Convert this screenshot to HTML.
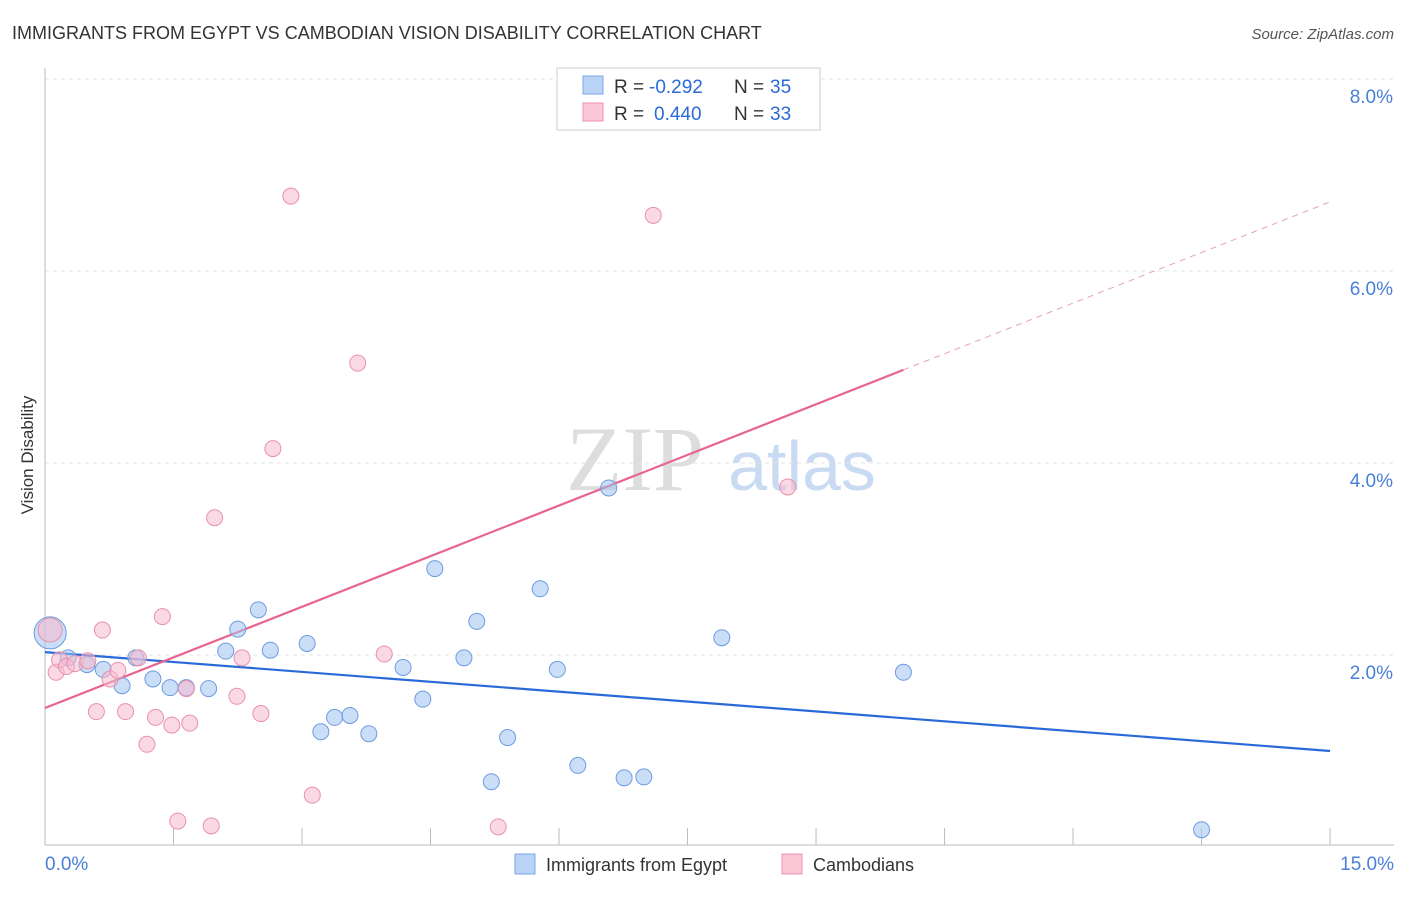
<!DOCTYPE html>
<html><head><meta charset="utf-8"><style>
body{margin:0;background:#fff;font-family:"Liberation Sans",sans-serif;}
svg text{font-family:"Liberation Sans",sans-serif;}
</style></head><body>
<svg id="chart" width="1406" height="892" xmlns="http://www.w3.org/2000/svg">
<text x="12" y="39" font-size="18" fill="#333">IMMIGRANTS FROM EGYPT VS CAMBODIAN VISION DISABILITY CORRELATION CHART</text>
<text x="1394" y="39" font-size="15" fill="#555" font-style="italic" text-anchor="end">Source: ZipAtlas.com</text>
<text x="33" y="455" font-size="17" fill="#333" text-anchor="middle" transform="rotate(-90 33 455)">Vision Disability</text>
<g>
<text x="635" y="490" font-size="92" fill="#ddd" style="font-family:'Liberation Serif',serif" text-anchor="middle">ZIP</text>
<text x="802" y="490" font-size="70" fill="#c9daf3" text-anchor="middle">atlas</text>
</g>
<g id="grid"></g><g id="axes"></g><g id="lines"></g><g id="pts"></g>
<g>
<rect x="557" y="68" width="263" height="62" fill="#fff" stroke="#ccc"/>
<rect x="583" y="76" width="20" height="18" fill="#b9d3f6" stroke="#7aa7e8"/>
<text x="614" y="93" font-size="19" fill="#333">R =</text>
<text x="649" y="93" font-size="19" fill="#2a6ad8">-0.292</text>
<text x="734" y="93" font-size="19" fill="#333">N =</text>
<text x="770" y="93" font-size="19" fill="#2a6ad8">35</text>
<rect x="583" y="103" width="20" height="18" fill="#f9c7d6" stroke="#ee92ae"/>
<text x="614" y="120" font-size="19" fill="#333">R =</text>
<text x="654" y="120" font-size="19" fill="#2a6ad8">0.440</text>
<text x="734" y="120" font-size="19" fill="#333">N =</text>
<text x="770" y="120" font-size="19" fill="#2a6ad8">33</text>
</g>
<g>
<rect x="515" y="854" width="20" height="20" fill="#b9d3f6" stroke="#7aa7e8"/>
<text x="546" y="871" font-size="18" fill="#333">Immigrants from Egypt</text>
<rect x="782" y="854" width="20" height="20" fill="#f9c7d6" stroke="#ee92ae"/>
<text x="813" y="871" font-size="18" fill="#333">Cambodians</text>
</g>
</svg>
<script>
const yTicks=[2,4,6,8];
const yTickLabels=["2.0%","4.0%","6.0%","8.0%"];
const xEdgeLabels=["0.0%","15.0%"];
const egyptX=[0.06,0.27,0.49,0.68,0.9,1.06,1.26,1.46,1.65,1.91,2.11,2.25,2.49,2.63,3.06,3.22,3.38,3.56,3.78,4.18,4.41,4.55,4.89,5.04,5.21,5.4,5.78,5.98,6.22,6.58,6.76,6.99,7.9,10.02,13.5];
const egyptY=[2.23,1.97,1.9,1.85,1.68,1.97,1.75,1.66,1.66,1.65,2.04,2.27,2.47,2.05,2.12,1.2,1.35,1.37,1.18,1.87,1.54,2.9,1.97,2.35,0.68,1.14,2.69,1.85,0.85,3.74,0.72,0.73,2.18,1.82,0.18];
const camX=[0.06,0.13,0.17,0.25,0.35,0.5,0.6,0.67,0.76,0.85,0.94,1.09,1.19,1.29,1.37,1.48,1.55,1.65,1.69,1.94,1.98,2.24,2.3,2.52,2.66,2.87,3.12,3.65,3.96,5.29,7.1,8.67];
const camY=[2.26,1.82,1.95,1.88,1.91,1.94,1.41,2.26,1.75,1.84,1.41,1.97,1.07,1.35,2.4,1.27,0.27,1.65,1.29,0.22,3.43,1.57,1.97,1.39,4.15,6.78,0.54,5.04,2.01,0.21,6.58,3.75];
const camSize=[12,8,8,8,8,8,8,8,8,8,8,8,8,8,8,8,8,8,8,8,8,8,8,8,8,8,8,8,8,8,8,8];
const egyptLine=[2.03,1.0];
const camLine=[1.448,6.72];
const camSolidEnd=10.02;
const X=v=>45+v*85.67, Y=v=>847-v*96;
const NS="http://www.w3.org/2000/svg";
function mk(parent,tag,attrs){const e=document.createElementNS(NS,tag);for(const k in attrs)e.setAttribute(k,attrs[k]);document.getElementById(parent).appendChild(e);return e;}
yTicks.forEach((t,i)=>{
 let l=mk('grid','line',{x1:45,x2:1394,y1:Y(t),y2:Y(t),stroke:'#e3e3e3','stroke-dasharray':'4,4'});
 
 
 let tx=mk('grid','text',{x:1393,y:Y(t)+24,'font-size':19,fill:'#4a7fd8','text-anchor':'end'});tx.textContent=yTickLabels[i];
 
 
});
let ax=mk('axes','line',{x1:45,x2:1394,y1:845,y2:845,stroke:'#bbb'});


let ay=mk('axes','line',{x1:45,x2:45,y1:68,y2:845,stroke:'#bbb'});


for(let i=0;i<=10;i++){let t=mk('axes','line',{x1:X(i*1.5),x2:X(i*1.5),y1:828,y2:845,stroke:'#bbb'});
 
 }
[[0,'start',45],[15,'end',1394]].forEach((d,i)=>{let t=mk('axes','text',{x:d[2],y:870,'font-size':19,fill:'#4a7fd8','text-anchor':d[1]});t.textContent=xEdgeLabels[i];
 
 });
const cy=x=>camLine[0]+(camLine[1]-camLine[0])*x/15;
let bl=mk('lines','line',{x1:X(0),y1:Y(egyptLine[0]),x2:X(15),y2:Y(egyptLine[1]),stroke:'#2a6ad8','stroke-width':2.2});


let pl=mk('lines','line',{x1:X(0),y1:Y(cy(0)),x2:X(camSolidEnd),y2:Y(cy(camSolidEnd)),stroke:'#e8638e','stroke-width':2.2});


let pd=mk('lines','line',{x1:X(camSolidEnd),y1:Y(cy(camSolidEnd)),x2:X(15),y2:Y(cy(15)),stroke:'#e8a0b8','stroke-width':1,'stroke-dasharray':'6,5'});


egyptX.forEach((x,i)=>{let c=mk('pts','circle',{cx:X(x),cy:Y(egyptY[i]),r:i==0?16:8,fill:'rgba(160,195,240,0.55)',stroke:'#6d9be0','stroke-width':1});
 
 });
camX.forEach((x,i)=>{let c=mk('pts','circle',{cx:X(x),cy:Y(camY[i]),r:camSize[i],fill:'rgba(247,185,205,0.55)',stroke:'#e990ad','stroke-width':1});
 
 });
</script>
</body></html>
